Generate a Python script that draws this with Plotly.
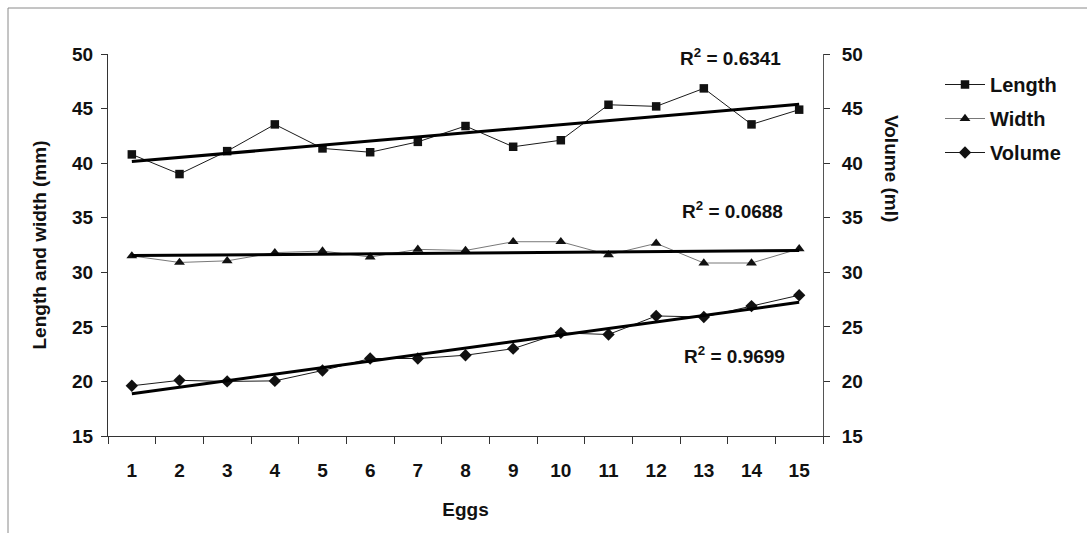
import numpy as np
import plotly.graph_objects as go

# Egg measurements
eggs = list(range(1, 16))
length_mm = [40.8, 39.0, 41.1, 43.55, 41.35, 41.0, 41.95, 43.4, 41.5, 42.1, 45.35, 45.2, 46.85, 43.55, 44.9]
width_mm = [31.5, 30.9, 31.05, 31.8, 31.95, 31.4, 32.1, 32.0, 32.8, 32.8, 31.6, 32.65, 30.85, 30.85, 32.15]
volume_ml = [19.6, 20.1, 20.0, 20.05, 21.0, 22.1, 22.1, 22.4, 23.0, 24.45, 24.3, 26.0, 25.9, 26.9, 27.9]
r2_labels = ["0.6341", "0.0688", "0.9699"]

FONT = "Arial, Liberation Sans, sans-serif"
x = np.array(eggs, dtype=float)


def trend(values):
    slope, intercept = np.polyfit(x, np.array(values), 1)
    return [slope * x[0] + intercept, slope * x[-1] + intercept]


fig = go.Figure()

fig.add_trace(go.Scatter(
    x=eggs, y=length_mm, name="Length", mode="lines+markers", legendgroup="a",
    line=dict(color="#1a1a1a", width=1),
    marker=dict(symbol="square", size=8.5, color="#111"),
))
fig.add_trace(go.Scatter(
    x=eggs, y=width_mm, name="Width", mode="lines+markers", legendgroup="b",
    line=dict(color="#555", width=0.8),
    marker=dict(symbol="triangle-up", size=9.5, color="#111"),
))
fig.add_trace(go.Scatter(
    x=eggs, y=volume_ml, name="Volume", mode="lines+markers", yaxis="y2",
    legendgroup="c",
    line=dict(color="#1a1a1a", width=1),
    marker=dict(symbol="diamond", size=9.5, color="#111"),
))

# Linear trend lines
for vals, ax in [(length_mm, "y"), (width_mm, "y"), (volume_ml, "y2")]:
    fig.add_trace(go.Scatter(
        x=[eggs[0], eggs[-1]], y=trend(vals), mode="lines", yaxis=ax,
        line=dict(color="#000", width=3), showlegend=False, hoverinfo="skip",
    ))

# R² labels
for txt, xv, yv in zip(r2_labels, [13.55, 13.6, 13.65], [49.75, 35.7, 22.4]):
    fig.add_annotation(
        x=xv, y=yv, xref="x", yref="y", text=f"R<sup>2</sup> = {txt}",
        showarrow=False, font=dict(family=FONT, size=19, color="#111", weight="bold"),
    )

# Right axis title reads top to bottom
fig.add_annotation(
    x=(904 - 108) / 715, y=(436 - 113) / 382, xref="paper", yref="paper",
    text="Volume (ml)", textangle=90, showarrow=False,
    font=dict(family=FONT, size=19, color="#111", weight="bold"),
)

# Outer frame (top and left edges)
for x0, y0, x1, y1 in [(8, 8, 1087, 8), (8, 8, 8, 533)]:
    fig.add_shape(type="line", xref="paper", yref="paper",
                  x0=(x0 - 108) / 715, x1=(x1 - 108) / 715,
                  y0=(436 - y0) / 382, y1=(436 - y1) / 382,
                  line=dict(color="#8a8a8a", width=1), layer="below")

tickfont = dict(family=FONT, size=19, color="#111", weight="bold")

fig.update_layout(
    width=1087, height=533,
    margin=dict(l=108, r=264, t=54, b=97),
    paper_bgcolor="white", plot_bgcolor="white",
    font=dict(family=FONT, color="#111"),
    xaxis=dict(
        range=[0.5, 15.5], tickvals=eggs, ticks="", showgrid=False,
        zeroline=False, showline=True, linecolor="#333", linewidth=1,
        tickfont=tickfont, ticklabelstandoff=17,
        minor=dict(tick0=0.5, dtick=1, ticks="outside", ticklen=7, tickcolor="#333"),
        title=dict(text="Eggs", font=dict(family=FONT, size=19, weight="bold"), standoff=22),
    ),
    yaxis=dict(
        range=[15, 50], dtick=5, ticks="outside", ticklen=6, tickcolor="#333",
        showgrid=False, zeroline=False, showline=True, linecolor="#333",
        linewidth=1, tickfont=tickfont, ticklabelstandoff=4,
        title=dict(text="Length and width (mm)",
                   font=dict(family=FONT, size=19, weight="bold"), standoff=20),
    ),
    yaxis2=dict(
        range=[15, 50], dtick=5, overlaying="y", side="right",
        ticks="outside", ticklen=6, tickcolor="#333", showgrid=False,
        zeroline=False, showline=True, linecolor="#555", linewidth=1,
        tickfont=tickfont, ticklabelstandoff=8,
    ),
    legend=dict(
        x=(940 - 108) / 715, y=(436 - 65) / 382, xanchor="left", yanchor="top",
        font=dict(family=FONT, size=20, color="#111", weight="bold"),
        bgcolor="rgba(0,0,0,0)", itemwidth=40, tracegroupgap=5,
    ),
    showlegend=True,
)

fig.write_html("out.html")
